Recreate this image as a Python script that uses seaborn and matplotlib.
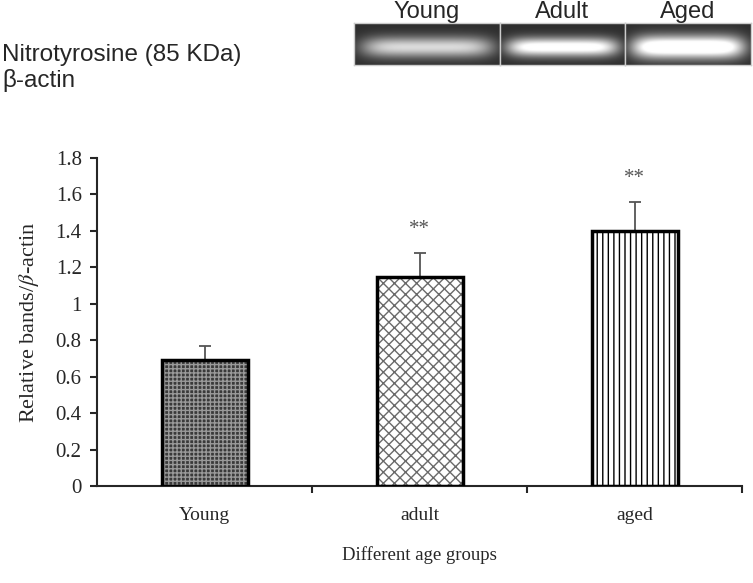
import numpy as np
import pandas as pd
import seaborn as sns
import matplotlib.pyplot as plt

# bar data
groups = ["Young", "adult", "aged"]
values = [0.69, 1.145, 1.40]
errors = [0.08, 0.135, 0.16]
marks = ["", "**", "**"]

# blot panel
blot_labels = ["Young", "Adult", "Aged"]
blot_intensity = [0.68, 0.92, 1.05]
blot_spread = [0.50, 0.45, 0.55]

sns.set_style("white")
plt.rcParams["font.family"] = ["Liberation Serif", "DejaVu Serif"]
plt.rcParams["mathtext.fontset"] = "stix"
plt.rcParams["hatch.linewidth"] = 1.0

fig = plt.figure(figsize=(7.53, 5.83), dpi=100)
ax = fig.add_axes([97 / 753, 1 - 486 / 583, (742 - 97) / 753, (486 - 158) / 583])

df = pd.DataFrame({"group": groups, "value": values})
sns.barplot(data=df, x="group", y="value", width=0.4, ax=ax, errorbar=None)

styles = [("#3a3a3a", "#999999", "++++"),
          ("white", "#6a6a6a", "xxx"),
          ("white", "black", "|||")]
for patch, (fc, hc, h) in zip(ax.patches, styles):
    patch.set_facecolor(fc)
    patch.set_edgecolor(hc)
    patch.set_hatch(h)
    patch.set_linewidth(0)

x = np.arange(len(groups))
ax.bar(x, values, width=0.4, fill=False, edgecolor="black", linewidth=2.5, zorder=3)
ax.errorbar(x, values, yerr=[np.zeros(len(errors)), errors], fmt="none",
            ecolor="#555555", elinewidth=1.3, capsize=4, capthick=1.3, zorder=2)
for xi, v, e, m in zip(x, values, errors, marks):
    ax.text(xi, v + e + 0.13, m, ha="center", va="center", fontsize=15, color="#555555")

ax.set_xlim(-0.5, 2.5)
ax.set_ylim(0, 1.8)
ax.set_yticks(np.arange(0, 1.81, 0.2))
ax.set_yticklabels(["0", "0.2", "0.4", "0.6", "0.8", "1", "1.2", "1.4", "1.6", "1.8"])
ax.set_xticks(x)
ax.set_xticklabels(groups)
ax.set_xticks([0.5, 1.5, 2.5], minor=True)
ax.tick_params(axis="x", which="major", length=0, labelsize=14, pad=15)
ax.tick_params(axis="x", which="minor", length=5, width=1.5, direction="out", bottom=True)
ax.tick_params(axis="y", length=5, width=1.5, direction="out", left=True, labelsize=15, pad=6)
sns.despine(ax=ax)
for s in ["left", "bottom"]:
    ax.spines[s].set_linewidth(1.5)
ax.set_ylabel(r"Relative bands/$\beta$-actin", fontsize=16)
ax.yaxis.set_label_coords((41 - 97) / 645, 0.5)
ax.set_xlabel("Different age groups", fontsize=13.5, labelpad=16)

# western blot strip
fig.text(2 / 753, 1 - 55 / 583, "Nitrotyrosine (85 KDa)", family="Liberation Sans",
         fontsize=17.5, va="center", ha="left")
fig.text(2 / 753, 1 - 81 / 583, "β-actin", family="Liberation Sans",
         fontsize=17.5, va="center", ha="left")
edges = [354, 500, 625, 751]
yy, xx = np.mgrid[-1:1:40j, -1:1:120j]
for i in range(3):
    bx = fig.add_axes([edges[i] / 753, 1 - 65 / 583, (edges[i + 1] - edges[i]) / 753, 42 / 583])
    blob = np.exp(-(xx / 0.9) ** 6) * np.exp(-((yy - 0.15) / blot_spread[i]) ** 2)
    img = 0.18 + blot_intensity[i] * blob
    bx.imshow(np.clip(img, 0, 1), cmap="gray", vmin=0, vmax=1, aspect="auto",
              interpolation="bicubic")
    bx.set_xticks([])
    bx.set_yticks([])
    for s in bx.spines.values():
        s.set_color("#cccccc")
        s.set_linewidth(1)
    fig.text((edges[i] + edges[i + 1]) / 2 / 753, 1 - 12 / 583, blot_labels[i],
             family="Liberation Sans", fontsize=17, ha="center", va="center")

fig.savefig("out.png", dpi=100, facecolor="white")
plt.close(fig)
